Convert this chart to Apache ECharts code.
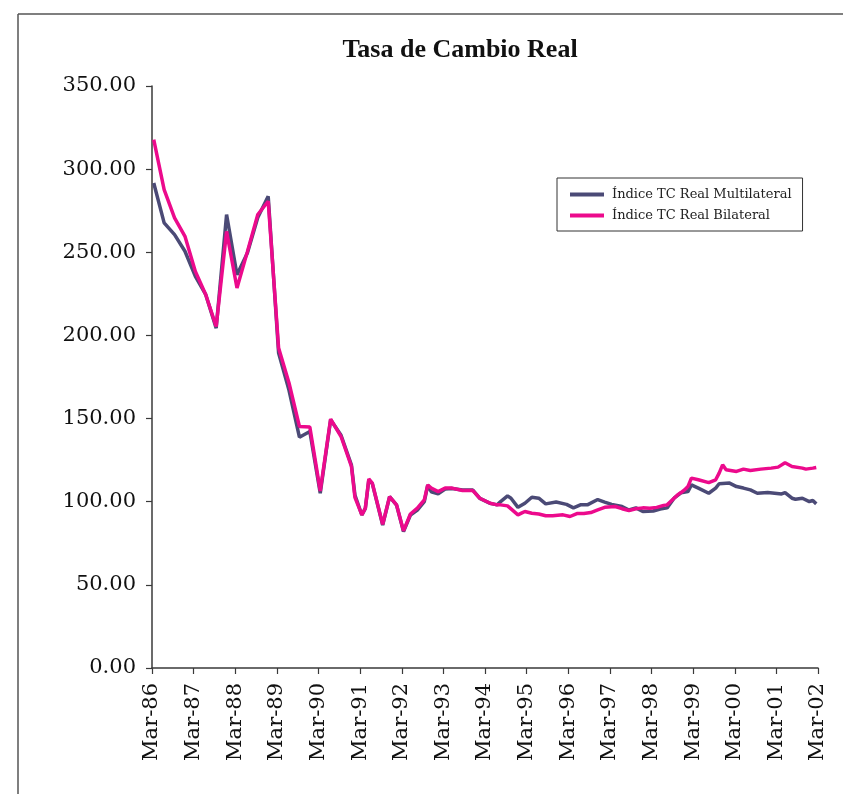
<!DOCTYPE html>
<html>
<head>
<meta charset="utf-8">
<script src="https://cdn.jsdelivr.net/npm/echarts@6/dist/echarts.min.js"></script>
<style>
  html, body { margin: 0; padding: 0; background: #fff; }
  #chart { width: 843px; height: 794px; }
</style>
</head>
<body>
<div id="chart"></div>
<script>
// Months counted from March 1986 (0 = Mar-86); quarterly readings early on, monthly later.
const multiMonths = [0, 3, 6, 9, 12, 15, 18, 21, 24, 27, 30, 33, 36, 39, 42, 45, 48, 51, 54, 57,
  58, 60, 61, 62, 63, 66, 68, 70, 72, 74, 76, 78, 79, 80, 82, 84, 86, 89, 92, 94,
  97, 99, 100, 102, 103, 105, 107, 109, 111, 113, 116, 119, 121, 123, 125, 128, 130, 132, 135, 137,
  139, 141, 144, 146, 148, 150, 152, 154, 155, 157, 160, 162, 163, 166, 168, 170, 172, 174, 177, 179,
  181, 182, 184, 185, 187, 189, 190, 191];
const multiValues = [291.7, 267.7, 260.6, 250.6, 235.5, 224.5, 204.4, 272.7, 236.5, 249.6, 270.9, 283.7, 189.4, 167.0, 138.8, 142.2, 105.1, 149.3, 140.0, 122.0,
  104.0, 92.0, 96.0, 113.0, 111.0, 86.0, 103.0, 98.0, 82.0, 92.0, 95.0, 100.0, 110.0, 106.0, 104.7, 107.6, 108.0, 107.0, 107.0, 102.0,
  99.0, 98.1, 100.1, 103.5, 102.1, 96.6, 99.1, 102.7, 102.1, 98.7, 99.8, 98.4, 96.3, 98.1, 98.1, 101.3, 99.8, 98.4, 97.1, 95.0,
  96.3, 94.1, 94.4, 95.6, 96.3, 102.1, 105.3, 106.1, 110.1, 108.2, 105.1, 108.2, 110.8, 111.2, 109.1, 108.2, 107.1, 105.1, 105.5, 105.1,
  104.7, 105.5, 102.1, 101.5, 102.1, 100.1, 100.7, 98.7];

const biMonths = [0, 3, 6, 9, 12, 15, 18, 21, 24, 27, 30, 33, 36, 39, 42, 45, 48, 51, 54, 57,
  58, 60, 61, 62, 63, 66, 68, 70, 72, 74, 76, 78, 79, 80, 82, 84, 86, 89, 92, 94,
  97, 99, 100, 102, 105, 106, 107, 109, 111, 113, 115, 118, 120, 122, 124, 126, 128, 130, 133, 135,
  137, 139, 141, 143, 145, 147, 148, 149, 150, 151, 152, 153, 154, 155, 157, 160, 162, 163, 164, 165,
  168, 170, 172, 175, 178, 180, 182, 184, 187, 188, 190, 191];
const biValues = [317.8, 287.7, 270.7, 259.6, 238.5, 224.5, 205.4, 262.6, 228.5, 250.4, 272.7, 280.7, 192.4, 171.4, 145.3, 144.9, 106.5, 149.7, 139.2, 121.2,
  102.6, 92.1, 96.1, 113.7, 111.2, 86.4, 103.1, 98.1, 82.5, 92.6, 96.1, 101.1, 110.1, 108.2, 106.1, 108.2, 108.2, 106.7, 106.7, 102.1,
  99.1, 98.1, 98.1, 97.5, 92.1, 93.1, 94.1, 93.1, 92.6, 91.6, 91.6, 92.1, 91.1, 92.9, 92.9, 93.5, 95.1, 96.6, 97.1, 95.8,
  94.7, 95.8, 96.3, 96.1, 96.6, 97.8, 98.1, 100.1, 102.1, 104.1, 105.5, 107.1, 109.1, 114.2, 113.2, 111.5, 113.2, 117.2, 122.2, 119.2,
  118.2, 119.6, 118.8, 119.6, 120.2, 120.8, 123.4, 121.2, 120.2, 119.6, 120.2, 120.6];

const seriesNames = ['Índice TC Real Multilateral', 'Índice TC Real Bilateral'];
const yTicks = [0, 50, 100, 150, 200, 250, 300, 350];
const startYear = 1986;
const totalMonths = 192;

// Each monthly value sits in the middle of its month slot.
function toPairs(months, values) {
  return months.map((m, i) => [m + 0.5, values[i]]);
}

function monthLabel(v) {
  const yy = (startYear + Math.round(v / 12)) % 100;
  return 'Mar-' + String(yy).padStart(2, '0');
}

const serif = 'DejaVu Serif';
const axisColor = '#3a3a3a';

const chart = echarts.init(document.getElementById('chart'), null, { renderer: 'canvas' });
chart.setOption({
  backgroundColor: '#ffffff',
  animation: false,
  title: {
    text: 'Tasa de Cambio Real',
    left: 455,
    textAlign: 'center',
    top: 32,
    textStyle: { fontFamily: 'Liberation Serif', fontWeight: 'bold', fontSize: 26, color: '#111' }
  },
  legend: {
    orient: 'vertical',
    left: 557,
    top: 178,
    padding: [10, 11, 9, 13],
    itemWidth: 34,
    itemHeight: 4,
    itemGap: 8,
    icon: 'rect',
    borderColor: '#333',
    borderWidth: 1,
    textStyle: { fontFamily: serif, fontSize: 13, color: '#222', padding: [0, 0, 0, 3] },
    data: seriesNames
  },
  grid: { left: 152, top: 86, width: 666, height: 582, containLabel: false },
  xAxis: {
    type: 'value',
    min: 0,
    max: totalMonths,
    interval: 12,
    splitLine: { show: false },
    axisLine: { lineStyle: { color: axisColor, width: 1.5 } },
    axisTick: { length: 6, lineStyle: { color: axisColor, width: 1.2 } },
    axisLabel: {
      rotate: 90,
      margin: 15,
      fontFamily: serif,
      fontSize: 21,
      color: '#111',
      formatter: monthLabel
    }
  },
  yAxis: {
    type: 'value',
    min: yTicks[0],
    max: yTicks[yTicks.length - 1],
    interval: 50,
    splitLine: { show: false },
    axisLine: { show: true, lineStyle: { color: axisColor, width: 1.5 } },
    axisTick: { show: true, length: 6, lineStyle: { color: axisColor, width: 1.2 } },
    axisLabel: {
      margin: 16,
      fontFamily: serif,
      fontSize: 21,
      color: '#111',
      formatter: v => v.toFixed(2)
    }
  },
  graphic: [
    { type: 'line', shape: { x1: 18, y1: 14, x2: 843, y2: 14 }, style: { stroke: '#555', lineWidth: 1.5 } },
    { type: 'line', shape: { x1: 18, y1: 14, x2: 18, y2: 794 }, style: { stroke: '#555', lineWidth: 1.5 } }
  ],
  series: [
    {
      name: seriesNames[0],
      type: 'line',
      symbol: 'none',
      data: toPairs(multiMonths, multiValues),
      lineStyle: { color: '#4b4a76', width: 3.5 },
      itemStyle: { color: '#4b4a76' }
    },
    {
      name: seriesNames[1],
      type: 'line',
      symbol: 'none',
      data: toPairs(biMonths, biValues),
      lineStyle: { color: '#ec0a8c', width: 3.5 },
      itemStyle: { color: '#ec0a8c' }
    }
  ]
});
</script>
</body>
</html>
